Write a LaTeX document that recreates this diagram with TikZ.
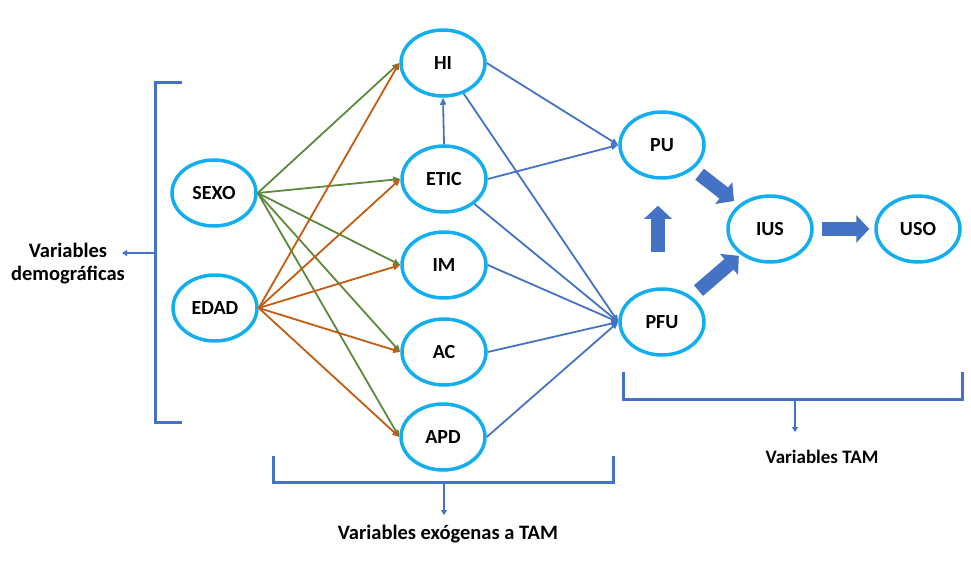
\documentclass[tikz,border=0pt]{standalone}
\usepackage{fontspec}
\setmainfont{Carlito}
\usetikzlibrary{shapes.geometric,arrows.meta}
\definecolor{ellblue}{HTML}{12AEEF}
\definecolor{tamblue}{HTML}{4472C4}
\definecolor{grn}{HTML}{5B8A3A}
\definecolor{org}{HTML}{C55A11}
\begin{document}
\begin{tikzpicture}[x=1pt,y=-1pt,
  var/.style={ellipse,draw=ellblue,line width=3.5pt,minimum width=84pt,minimum height=66pt,inner sep=0pt,font=\fontsize{20}{24}\selectfont\bfseries},
  gline/.style={draw=grn,line width=1.8pt,-{Triangle[length=7pt,width=6pt]}},
  oline/.style={draw=org,line width=1.8pt,-{Triangle[length=7pt,width=6pt]}},
  bline/.style={draw=tamblue,line width=1.8pt,-{Triangle[length=7pt,width=6pt]}},
  bracket/.style={draw=tamblue,line width=3pt},
  brarrow/.style={draw=tamblue,line width=2pt,-{Triangle[length=5pt,width=6pt]}},
  bigarrow/.style={draw=tamblue,line width=14pt,-{Triangle[length=13pt,width=27pt]}},
  lbl/.style={font=\fontsize{20.5}{23}\selectfont\bfseries,align=center,inner sep=0pt}]
\useasboundingbox (0,0) rectangle (971,567);

% nodes
\node[var] (HI)   at (443,63)  {HI};
\node[var] (ETIC) at (444,179) {ETIC};
\node[var] (IM)   at (444,265) {IM};
\node[var] (AC)   at (444,352) {AC};
\node[var] (APD)  at (443,437) {APD};
\node[var] (SEXO) at (214,193) {SEXO};
\node[var] (EDAD) at (215,308) {EDAD};
\node[var] (PU)   at (662,145) {PU};
\node[var] (PFU)  at (662,322) {PFU};
\node[var] (IUS)  at (770,229) {IUS};
\node[var] (USO)  at (918,229) {USO};

% demographic -> exogenous
\foreach \t in {HI,ETIC,IM,AC,APD}{
  \draw[gline] (SEXO.east) -- (\t.west);
}
\foreach \t in {HI,ETIC,IM,AC,APD}{
  \draw[oline] (EDAD.east) -- (\t.west);
}

% exogenous -> TAM
\draw[bline] (HI.east) -- (PU.west);
\draw[bline] (ETIC.east) -- (PU.west);
\draw[bline] (HI) -- (PFU.west);
\draw[bline] (ETIC) -- (PFU.west);
\draw[bline] (IM.east) -- (PFU.west);
\draw[bline] (AC.east) -- (PFU.west);
\draw[bline] (APD.east) -- (PFU.west);
\draw[bline] (ETIC.north) -- (HI.south);

% TAM thick arrows
\draw[bigarrow,shorten <=8pt,shorten >=6pt] (PU) -- (IUS);
\draw[bigarrow,shorten <=9pt,shorten >=2pt] (PFU) -- (IUS);
\draw[bigarrow,shorten <=8pt,shorten >=5pt] (IUS.east) -- (USO.west);
\draw[bigarrow,shorten <=35pt,shorten >=26pt] ([xshift=-4pt]PFU.north) -- ([xshift=-4pt]PU.south);

% labels
\node[lbl] (dem) at (68,264) {Variables\\demográficas};
\node[lbl] (exo) at (448,534) {Variables exógenas a TAM};
\node[lbl,font=\fontsize{19}{22}\selectfont\bfseries] (tam) at (822,457) {Variables TAM};

% brackets
\draw[bracket] (182,83) -- (155,83) -- (155,422) -- (182,422);
\coordinate (b1s) at (155,253);
\coordinate (b1e) at (122,253);
\draw[brarrow] (b1s) -- (b1e);

\draw[bracket] (273,456) -- (273,482) -- (613,482) -- (613,456);
\coordinate (b2s) at (444,482);
\coordinate (b2e) at (444,515);
\draw[brarrow] (b2s) -- (b2e);

\draw[bracket] (623,372) -- (623,399) -- (962,399) -- (962,372);
\coordinate (b3s) at (795,399);
\coordinate (b3e) at (795,432);
\draw[brarrow] (b3s) -- (b3e);
\end{tikzpicture}
\end{document}
